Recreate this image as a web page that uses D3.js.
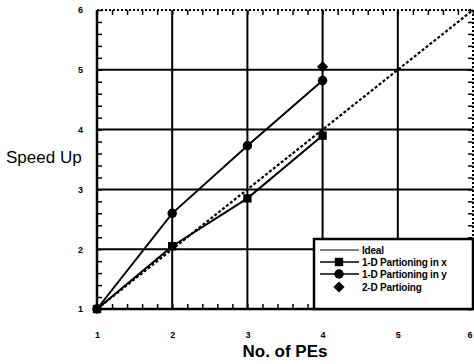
<!DOCTYPE html>
<html>
<head>
<meta charset="utf-8">
<script src="https://cdn.jsdelivr.net/npm/d3@7"></script>
<style>
  body { margin: 0; background: #fff; }
  svg { display: block; font-family: "Liberation Sans", Arial, sans-serif; }
  .tick text { font-weight: bold; font-size: 9px; }
</style>
</head>
<body>
<svg id="chart" width="474" height="364"></svg>
<script>
// data
var peTicks = [1, 2, 3, 4, 5, 6];
var speedTicks = [1, 2, 3, 4, 5, 6];
var pes = [1, 2, 3, 4];
var idealX = [1, 6];
var idealY = [1, 6];
var partX = [1, 2.05, 2.85, 3.9];
var partY = [1, 2.6, 3.73, 4.82];
var twoDPes = [4];
var twoD = [5.05];
var legendNames = ["Ideal", "1-D Partioning in x", "1-D Partioning in y", "2-D Partioing"];

(function speedUp() {
    var svg = d3.select("#chart"),
        left = 97, right = 473, top = 10, bottom = 309;

    var x = d3.scaleLinear().domain([1, 6]).range([left, right]),
        y = d3.scaleLinear().domain([1, 6]).range([bottom, top]);

    var minor = d3.range(1, 6.001, 0.2);

    // grid
    svg.append("g").selectAll("line")
        .data(peTicks.slice(1, -1))
        .enter().append("line")
        .attr("x1", function (d) { return x(d); })
        .attr("x2", function (d) { return x(d); })
        .attr("y1", top).attr("y2", bottom)
        .attr("stroke", "#000").attr("stroke-width", 2);
    svg.append("g").selectAll("line")
        .data(speedTicks.slice(1, -1))
        .enter().append("line")
        .attr("y1", function (d) { return y(d); })
        .attr("y2", function (d) { return y(d); })
        .attr("x1", left).attr("x2", right)
        .attr("stroke", "#000").attr("stroke-width", 2);

    // minor ticks, inward on all four sides
    function minorAxis(axis, tr) {
        var g = svg.append("g")
            .attr("transform", tr)
            .call(axis.tickValues(minor).tickSize(5).tickFormat(""));
        g.select(".domain").remove();
        g.selectAll("line").attr("stroke-width", 1.5);
        return g;
    }
    minorAxis(d3.axisTop(x), "translate(0," + bottom + ")");
    minorAxis(d3.axisBottom(x), "translate(0," + top + ")");
    minorAxis(d3.axisRight(y), "translate(" + left + ",0)");
    minorAxis(d3.axisLeft(y), "translate(" + right + ",0)");

    // frame
    svg.append("line").attr("x1", left).attr("x2", left).attr("y1", top).attr("y2", bottom)
        .attr("stroke", "#000").attr("stroke-width", 2.5);
    svg.append("line").attr("x1", left).attr("x2", right).attr("y1", bottom).attr("y2", bottom)
        .attr("stroke", "#000").attr("stroke-width", 2.5);
    svg.append("line").attr("x1", left).attr("x2", right).attr("y1", top).attr("y2", top)
        .attr("stroke", "#000").attr("stroke-width", 2).attr("stroke-dasharray", "2,2");
    svg.append("line").attr("x1", right).attr("x2", right).attr("y1", top).attr("y2", bottom)
        .attr("stroke", "#000").attr("stroke-width", 2).attr("stroke-dasharray", "2,2");

    // tick labels
    var xa = svg.append("g")
        .attr("transform", "translate(0," + 329 + ")")
        .call(d3.axisBottom(x).tickValues(peTicks).tickSize(0).tickFormat(d3.format("d")));
    xa.select(".domain").remove();
    xa.selectAll(".tick").filter(function (d) { return d === 6; })
        .select("text").attr("text-anchor", "end").attr("dx", "-1");
    var ya = svg.append("g")
        .attr("transform", "translate(" + 86 + ",0)")
        .call(d3.axisLeft(y).tickValues(speedTicks).tickSize(0).tickFormat(d3.format("d")));
    ya.select(".domain").remove();

    // lines
    var line = d3.line()
        .x(function (d) { return x(d[0]); })
        .y(function (d) { return y(d[1]); });

    svg.append("path")
        .datum(d3.zip(idealX, idealY))
        .attr("d", line)
        .attr("fill", "none").attr("stroke", "#000")
        .attr("stroke-width", 2.2).attr("stroke-dasharray", "3,2");

    svg.append("path")
        .datum(d3.zip(pes, partX))
        .attr("d", line)
        .attr("fill", "none").attr("stroke", "#000").attr("stroke-width", 2);

    svg.append("path")
        .datum(d3.zip(pes, partY))
        .attr("d", line)
        .attr("fill", "none").attr("stroke", "#000").attr("stroke-width", 2);

    // markers
    var sq = d3.symbol().type(d3.symbolSquare).size(70),
        ci = d3.symbol().type(d3.symbolCircle).size(70),
        di = d3.symbol().type(d3.symbolDiamond2).size(80);

    svg.append("g").selectAll("path")
        .data(d3.zip(pes, partX))
        .enter().append("path")
        .attr("d", sq)
        .attr("transform", function (d) { return "translate(" + x(d[0]) + "," + y(d[1]) + ")"; });
    svg.append("g").selectAll("path")
        .data(d3.zip(pes, partY))
        .enter().append("path")
        .attr("d", ci)
        .attr("transform", function (d) { return "translate(" + x(d[0]) + "," + y(d[1]) + ")"; });
    svg.append("g").selectAll("path")
        .data(d3.zip(twoDPes, twoD))
        .enter().append("path")
        .attr("d", di)
        .attr("transform", function (d) { return "translate(" + x(d[0]) + "," + y(d[1]) + ")"; });

    // axis titles
    svg.append("text")
        .attr("x", 6).attr("y", 163)
        .style("font-size", "17px")
        .text("Speed Up");
    svg.append("text")
        .attr("x", 285).attr("y", 357)
        .attr("text-anchor", "middle")
        .style("font-size", "17px").style("font-weight", "bold")
        .text("No. of PEs");

    // legend
    var lg = svg.append("g");
    lg.append("rect")
        .attr("x", 314).attr("y", 239).attr("width", 159).attr("height", 70)
        .attr("fill", "#fff").attr("stroke", "#000").attr("stroke-width", 2.5);

    var rows = [250, 262, 274, 287];
    var syms = [null, sq, ci, di];
    legendNames.forEach(function (name, i) {
        if (i < 3) {
            lg.append("line")
                .attr("x1", 320).attr("x2", 359)
                .attr("y1", rows[i]).attr("y2", rows[i])
                .attr("stroke", "#000").attr("stroke-width", i === 0 ? 1 : 1.5);
        }
        if (syms[i]) {
            lg.append("path")
                .attr("d", syms[i])
                .attr("transform", "translate(" + 339 + "," + rows[i] + ")");
        }
        lg.append("text")
            .attr("x", 362).attr("y", rows[i] + 3.5)
            .style("font-size", "10px").style("font-weight", "bold")
            .style("letter-spacing", "-0.2px")
            .text(name);
    });
}());
</script>
</body>
</html>
